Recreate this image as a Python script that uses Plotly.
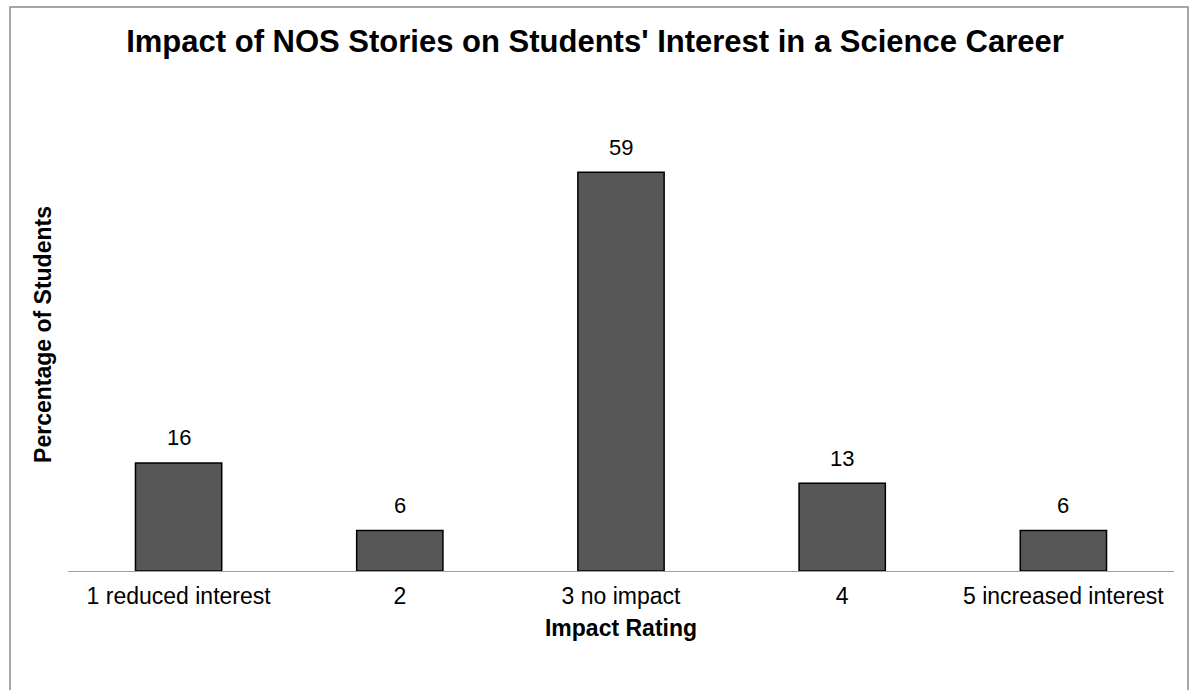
import plotly.graph_objects as go

categories = ["1 reduced interest", "2", "3 no impact", "4", "5 increased interest"]
values = [16, 6, 59, 13, 6]

W, H = 1190, 690
L, R, T, B = 68, 16, 98, 119
pw = W - L - R
ph = H - T - B

FONT = "Liberation Sans, Arial"

fig = go.Figure()
fig.add_trace(go.Bar(
    x=categories, y=values,
    marker=dict(color="#575757", line=dict(color="#000000", width=1.5)),
    width=0.39,
    hoverinfo="skip",
))

for i, v in enumerate(values):
    fig.add_annotation(x=i, y=v, text=str(v), showarrow=False, yanchor="middle",
                       yshift=25, font=dict(family=FONT, size=22, color="#000"))

# outer chart border
fig.add_shape(type="rect", xref="paper", yref="paper",
              x0=(10 - L) / pw, x1=(1188 - L) / pw,
              y0=-(B + 10) / ph, y1=(H - B - 7) / ph,
              line=dict(color="#8a8a8a", width=1.5), fillcolor="rgba(0,0,0,0)", layer="below")

fig.update_layout(
    width=W, height=H,
    margin=dict(l=L, r=R, t=T, b=B),
    paper_bgcolor="white", plot_bgcolor="white",
    font=dict(family=FONT, size=23, color="#000"),
    title=dict(text="<b>Impact of NOS Stories on Students' Interest in a Science Career</b>",
               x=0.5, xanchor="center", y=1 - 41 / H, yanchor="middle",
               font=dict(size=31, color="#000")),
    showlegend=False,
    bargap=0.61,
    xaxis=dict(type="category", showline=True, linecolor="#a0a0a0", linewidth=1, ticks="",
               showgrid=False, tickfont=dict(size=23), ticklabelstandoff=4,
               title=dict(text="<b>Impact Rating</b>", font=dict(size=23), standoff=12)),
    yaxis=dict(range=[0, 70], visible=True, showline=False, showticklabels=False, showgrid=False,
               zeroline=False, ticks="",
               title=dict(text="<b>Percentage of Students</b>", font=dict(size=23), standoff=8)),
)

fig.write_html("out.html")
